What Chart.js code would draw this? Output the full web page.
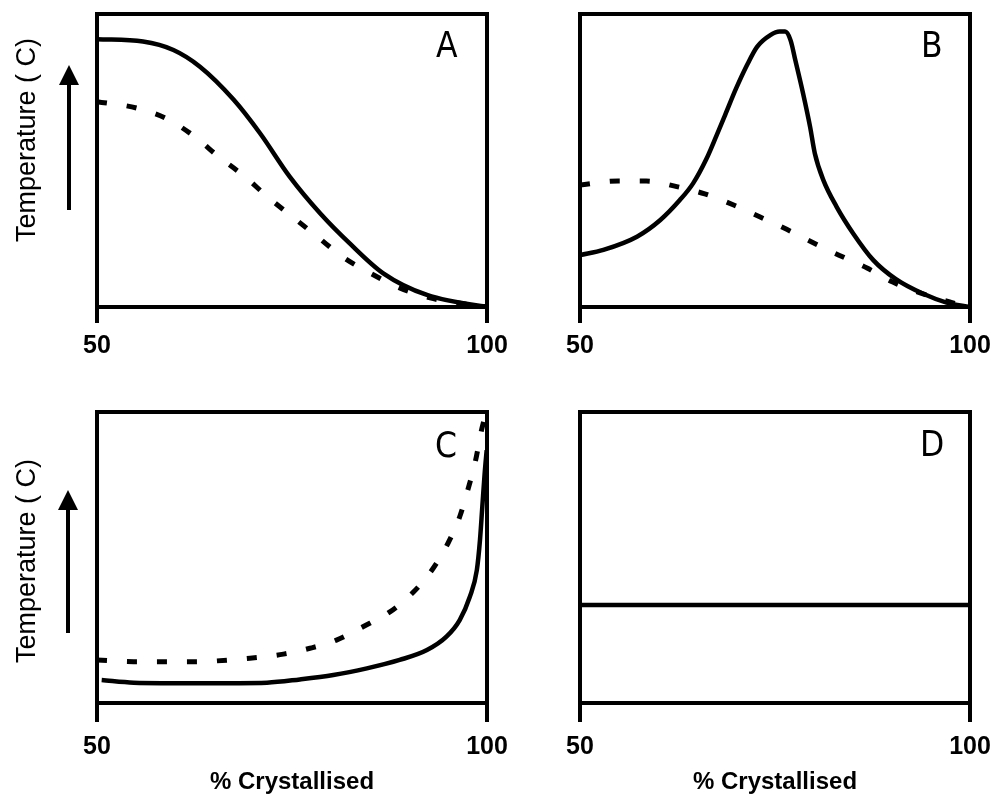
<!DOCTYPE html>
<html>
<head>
<meta charset="utf-8">
<script src="https://cdn.jsdelivr.net/npm/chart.js@4.4.0/dist/chart.umd.min.js"></script>
<style>
  html, body { margin: 0; padding: 0; background: #fff; overflow: hidden; width: 993px; height: 798px; }
  canvas { position: absolute; }
  .letter { position: absolute; font-family: "Liberation Sans Narrow", "Arial Narrow", "DejaVu Sans Condensed", sans-serif; font-size: 35px; line-height: 35px; color: #000; }
  .ylab { position: absolute; font-family: "Liberation Sans", Arial, sans-serif; font-size: 27px; line-height: 27px; color: #000; white-space: nowrap; transform: translate(-50%, -50%) rotate(-90deg); }
  .shaft { position: absolute; width: 4px; background: #000; }
  .head { position: absolute; width: 0; height: 0; border-left: 10px solid transparent; border-right: 10px solid transparent; border-bottom: 20px solid #000; }
</style>
</head>
<body>
<canvas id="cA" width="520" height="390" style="left:0px;top:0px"></canvas>
<canvas id="cB" width="520" height="390" style="left:483px;top:0px"></canvas>
<canvas id="cC" width="520" height="408" style="left:0px;top:390px"></canvas>
<canvas id="cD" width="520" height="408" style="left:483px;top:390px"></canvas>

<div class="letter" id="lA" style="left:436px;top:28px"></div>
<div class="letter" id="lB" style="left:921px;top:28px"></div>
<div class="letter" id="lC" style="left:435px;top:428px"></div>
<div class="letter" id="lD" style="left:920px;top:427px"></div>

<div class="ylab" id="yA" style="left:26px;top:140px"></div>
<div class="ylab" id="yC" style="left:26px;top:561px"></div>

<div class="head" style="left:59px;top:65px"></div>
<div class="shaft" style="left:67px;top:84px;height:126px"></div>
<div class="head" style="left:58px;top:490px"></div>
<div class="shaft" style="left:66px;top:509px;height:124px"></div>

<script>
// ---- data ----
const xTicks = [50, 100];
const panelLetters = ['A', 'B', 'C', 'D'];
const yAxisTitle = 'Temperature ( C)';
const xAxisTitle = '% Crystallised';

// Panel A
const aSolidX = [50, 55.9, 59.8, 63.2, 67.5, 70.9, 74.7, 78.6, 82.4, 86.7, 92.3, 99.5, 100];
const aSolidY = [91.4, 90.6, 87.7, 82.0, 70.8, 59.3, 44.5, 32.0, 21.7, 11.5, 4.1, 0.3, 0.2];
const aDashX = [50, 55.1, 59, 62.6, 65.5, 69, 71.9, 75.1, 78.3, 81.5, 85, 88.8, 92.7, 100];
const aDashY = [70.1, 67.9, 64.2, 58.0, 51.5, 44.4, 37.5, 30.7, 23.9, 17.1, 11.6, 6.5, 3.1, 0];

// Panel B
const bSolidX = [50, 53, 57.3, 60.3, 62.8, 64.5, 66.2, 67.5, 68.6, 70.0, 71.4, 72.7, 74.4, 75.6, 76.3, 77.0, 77.6, 78.6, 79.5, 80.1, 81.2, 82.9, 85.0, 87.6, 90.5, 94.0, 97.0, 100];
const bSolidY = [17.7, 19.5, 24.0, 29.7, 36.5, 42.2, 50.5, 58.5, 65.5, 74.5, 82.5, 88.8, 92.8, 94.0, 94.0, 91.0, 84.3, 72.9, 61.5, 52.5, 43.3, 34.2, 25.2, 16.0, 9.5, 4.5, 1.5, 0];
const bDashX = [50, 54.9, 58.5, 62.4, 66.0, 69.7, 73.1, 76.5, 79.9, 83.2, 86.8, 90.1, 93.6, 97.4, 100];
const bDashY = [41.6, 43.0, 43.0, 41.1, 38.6, 34.8, 30.7, 26.5, 21.9, 17.7, 13.3, 8.5, 4.8, 1.7, 0];

// Panel C
const cSolidX = [50.6, 54.7, 63.2, 71.8, 76.0, 80.3, 84.6, 88.8, 92.3, 94.8, 96.5, 97.8, 98.7, 99.1, 99.4, 99.7, 99.96];
const cSolidY = [7.9, 7.0, 6.8, 7.0, 8.1, 9.6, 11.9, 14.8, 18.2, 22.8, 28.5, 36.5, 45.7, 56.0, 67.5, 78.9, 86.9];
const cDashX = [50, 54.7, 62.3, 69.6, 73.9, 77.3, 80.7, 84.1, 87.6, 90.6, 93.1, 95.0, 96.5, 97.6, 98.5, 99.3, 99.6];
const cDashY = [14.8, 14.2, 14.2, 15.4, 16.8, 18.8, 21.6, 26.2, 31.4, 38.2, 46.3, 54.9, 64.0, 73.8, 82.9, 93.8, 97.0];

// Panel D
const dSolidX = [50, 100];
const dSolidY = [33.7, 33.7];

// ---- drawing ----
const tickFont = { family: "'Liberation Sans', Arial, sans-serif", size: 25, weight: 'bold' };
const titleFont = { family: "'Liberation Sans', Arial, sans-serif", size: 24, weight: 'bold' };

function pts(xs, ys) { return xs.map((x, i) => ({ x: x, y: ys[i] })); }

const framePlugin = {
  id: 'frame',
  beforeDatasetsDraw(chart) {
    const a = chart.chartArea, ctx = chart.ctx;
    ctx.save();
    ctx.lineWidth = 4;
    ctx.strokeStyle = '#000';
    ctx.strokeRect(a.left, a.top, a.right - a.left, a.bottom - a.top);
    ctx.restore();
  }
};

function solidSet(xs, ys) {
  return { data: pts(xs, ys), borderColor: '#000', borderWidth: 4.5, pointRadius: 0, fill: false, cubicInterpolationMode: 'monotone' };
}
function dashSet(xs, ys) {
  return { data: pts(xs, ys), borderColor: '#000', borderWidth: 5, borderDash: [10, 20], borderCapStyle: 'butt', pointRadius: 0, fill: false, cubicInterpolationMode: 'monotone' };
}

function makePanel(id, datasets, p) {
  new Chart(document.getElementById(id), {
    type: 'line',
    data: { datasets: datasets },
    plugins: [framePlugin],
    options: {
      responsive: false,
      animation: false,
      devicePixelRatio: 1,
      layout: { padding: { top: p.top, right: 33, bottom: 0, left: 0 } },
      plugins: { legend: { display: false }, tooltip: { enabled: false } },
      scales: {
        x: {
          type: 'linear', min: xTicks[0], max: xTicks[xTicks.length - 1],
          afterBuildTicks: s => { s.ticks = xTicks.map(v => ({ value: v })); },
          afterFit: s => { s.height = p.xh; },
          border: { display: false },
          grid: { drawOnChartArea: false, drawTicks: true, tickLength: p.tl, color: '#000', lineWidth: 4 },
          ticks: { color: '#000', font: tickFont, padding: p.pad, maxRotation: 0, autoSkip: false },
          title: { display: p.title, text: xAxisTitle, color: '#000', font: titleFont, padding: { top: 0, bottom: 1 } }
        },
        y: {
          type: 'linear', min: 0, max: 100,
          afterFit: s => { s.width = 97; },
          border: { display: false },
          grid: { display: false },
          ticks: { display: false }
        }
      }
    }
  });
}

makePanel('cA', [solidSet(aSolidX, aSolidY), dashSet(aDashX, aDashY)], { top: 14, xh: 83, tl: 16, pad: 8, title: false });
makePanel('cB', [solidSet(bSolidX, bSolidY), dashSet(bDashX, bDashY)], { top: 14, xh: 83, tl: 16, pad: 8, title: false });
makePanel('cC', [solidSet(cSolidX, cSolidY), dashSet(cDashX, cDashY)], { top: 22, xh: 95, tl: 19, pad: 10, title: true });
makePanel('cD', [solidSet(dSolidX, dSolidY)], { top: 22, xh: 95, tl: 19, pad: 10, title: true });

['lA', 'lB', 'lC', 'lD'].forEach((id, i) => { document.getElementById(id).textContent = panelLetters[i]; });
document.getElementById('yA').textContent = yAxisTitle;
document.getElementById('yC').textContent = yAxisTitle;
</script>
</body>
</html>
